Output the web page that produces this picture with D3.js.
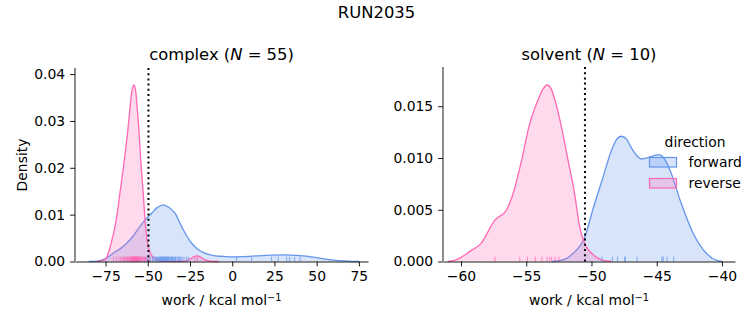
<!DOCTYPE html>
<html>
<head>
<meta charset="utf-8">
<script src="https://cdn.jsdelivr.net/npm/d3@7"></script>
<style>
body { margin: 0; background: white; }
svg { font-family: "DejaVu Sans", sans-serif; }
</style>
</head>
<body>
<script>
"use strict";

// ---- data ----

var figureTitle = "RUN2035";
var directions = ["forward", "reverse"];
var directionColors = ["#6495ED", "#FF69B4"];

// complex leg: density curves (work, density)
var complexForwardX = [-85, -80, -75, -70.4, -66, -62.5, -58.5, -54.6, -51, -47.7, -44.5, -42.5, -40.9, -39.2, -37, -33.9, -30, -27, -24, -20, -16.2, -10, -5.3, 0, 10, 20, 30, 38, 45, 52, 60, 68, 75];
var complexForwardD = [0, 0.0001, 0.0006, 0.0018, 0.0028, 0.0039, 0.0055, 0.0075, 0.0091, 0.0103, 0.0115, 0.0119, 0.0121, 0.0119, 0.0114, 0.0103, 0.0075, 0.0055, 0.0039, 0.0025, 0.0018, 0.0012, 0.0011, 0.0010, 0.0011, 0.0013, 0.0014, 0.0013, 0.0011, 0.0007, 0.0003, 0.0001, 0];
var complexReverseX = [-80, -78, -75.4, -73.4, -71.5, -69.4, -68, -66.5, -65.2, -63.9, -62.7, -61.6, -60.6, -59.6, -58.8, -58.2, -57.6, -57.0, -56.2, -55.4, -54.2, -52.7, -51.3, -49.7, -47.5, -44, -40, -34, -28, -25, -23, -21, -19, -16.5, -13, -8];
var complexReverseD = [0, 0.0001, 0.0004, 0.0018, 0.0042, 0.0075, 0.0105, 0.0146, 0.0180, 0.0217, 0.0252, 0.0288, 0.0325, 0.0359, 0.0373, 0.0377, 0.0372, 0.0359, 0.0325, 0.0288, 0.0217, 0.0146, 0.0075, 0.0032, 0.0012, 0.0004, 0.0001, 0, 0.0001, 0.0005, 0.0010, 0.0012, 0.0010, 0.0004, 0.0001, 0];

// complex leg: individual work values (rug)
var complexForwardWork = [-55.5, -52.0, -50.2, -48.6, -47.3, -46.5, -45.8, -45.1, -44.6, -44.0, -43.5, -43.1, -42.7, -42.3, -41.9, -41.5, -41.1, -40.7, -40.3, -39.9, -39.5, -39.1, -38.7, -38.3, -37.9, -37.4, -36.9, -36.4, -35.9, -35.3, -34.7, -34.0, -33.3, -32.5, -31.7, -30.8, -29.8, -28.6, -27.2, -44.8, -42.0, -40.5, -38.0, -36.0, -33.8, -31.0, -26.0, 2.6, 11.5, 23.3, 27.2, 32.2, 34.0, 37.0, 40.1];
var complexReverseWork = [-70.2, -68.5, -67.1, -66.0, -65.2, -64.4, -63.8, -63.1, -62.5, -62.0, -61.6, -61.1, -60.7, -60.3, -60.0, -59.9, -59.7, -59.4, -59.1, -58.9, -58.6, -58.4, -58.2, -58.1, -58.0, -57.8, -57.6, -57.5, -57.4, -57.2, -57.0, -56.9, -56.8, -56.6, -56.4, -56.2, -56.1, -55.9, -55.8, -55.6, -55.3, -55.0, -54.7, -54.5, -54.3, -53.9, -53.5, -53.0, -52.5, -52.0, -51.4, -50.8, -49.5, -22.0, -20.5];

// solvent leg: density curves
var solventForwardX = [-53, -52.4, -51.9, -51.4, -50.5, -49.9, -49.1, -48.45, -48.0, -47.7, -47.3, -47.0, -46.5, -46.15, -45.5, -45.0, -44.75, -44.4, -43.97, -43.2, -42.2, -41.2, -40.4, -40.0];
var solventForwardD = [0, 0.0001, 0.0003, 0.0008, 0.0024, 0.0050, 0.0082, 0.0108, 0.0119, 0.0121, 0.0118, 0.0111, 0.0102, 0.0099, 0.0101, 0.0103, 0.0103, 0.0099, 0.0088, 0.0059, 0.0027, 0.0008, 0.0001, 0];
var solventReverseX = [-61, -60.5, -60, -59.3, -58.5, -57.4, -56.5, -56.0, -55.35, -54.8, -54.1, -53.7, -53.4, -53.1, -52.8, -52.3, -51.8, -51.3, -50.9, -50.5, -50.0, -49.6, -49.1, -48.5];
var solventReverseD = [0, 0.0001, 0.0004, 0.0010, 0.0017, 0.0040, 0.0050, 0.0066, 0.0098, 0.0130, 0.0156, 0.0167, 0.01705, 0.0167, 0.0156, 0.0130, 0.0098, 0.0066, 0.0033, 0.0017, 0.0008, 0.0004, 0.0001, 0];

// solvent leg: individual work values (rug)
var solventForwardWork = [-49.2, -48.4, -48.0, -47.45, -47.4, -46.5, -44.6, -44.5, -44.2, -43.7];
var solventReverseWork = [-57.4, -55.5, -54.9, -54.3, -53.8, -53.4, -53.2, -53.05, -52.8, -52.5];

// vertical reference lines (free energy estimate)
var complexRefWork = -49.6;
var solventRefWork = -50.5;

// tick values
var complexXTicks = [-75, -50, -25, 0, 25, 50, 75];
var complexYTicks = [0, 0.01, 0.02, 0.03, 0.04];
var solventXTicks = [-60, -55, -50, -45, -40];
var solventYTicks = [0, 0.005, 0.010, 0.015];

// ---- drawing ----

var WIDTH = 753, HEIGHT = 325;
var FONT = 13.9, TITLE_FONT = 16.4;
var TICK = 4.9;

var svg = d3.select("body").append("svg")
            .attr("width", WIDTH)
            .attr("height", HEIGHT);

svg.append("text")
    .attr("x", 376.5)
    .attr("y", 18)
    .attr("text-anchor", "middle")
    .style("font-size", TITLE_FONT + "px")
    .text(figureTitle);

var drawPanel = function(p)
{
    var x = d3.scaleLinear().domain(p.xDomain).range([p.left, p.right]);
    var y = d3.scaleLinear().domain(p.yDomain).range([p.bottom, p.top]);

    var area = d3.area()
                 .x(function(d) { return x(d[0]); })
                 .y0(y(0))
                 .y1(function(d) { return y(d[1]); })
                 .curve(d3.curveMonotoneX);
    var line = d3.line()
                 .x(function(d) { return x(d[0]); })
                 .y(function(d) { return y(d[1]); })
                 .curve(d3.curveMonotoneX);

    var g = svg.append("g");

    // filled kde curves
    for (var i = 0; i < p.curves.length; i++)
    {
        var pts = d3.zip(p.curves[i].x, p.curves[i].d);
        g.append("path")
            .datum(pts)
            .attr("d", area)
            .attr("fill", directionColors[i])
            .attr("fill-opacity", 0.25)
            .attr("stroke", "none");
        g.append("path")
            .datum(pts)
            .attr("d", line)
            .attr("fill", "none")
            .attr("stroke", directionColors[i])
            .attr("stroke-width", 1.3);
    }

    // rug marks
    for (var i = 0; i < p.rugs.length; i++)
    {
        g.append("g")
            .selectAll("line")
            .data(p.rugs[i])
            .enter()
            .append("line")
            .attr("x1", function(d) { return x(d); })
            .attr("x2", function(d) { return x(d); })
            .attr("y1", y(0))
            .attr("y2", y(0) - 4.8)
            .attr("stroke", directionColors[i])
            .attr("stroke-opacity", 0.75)
            .attr("stroke-width", 1);
    }

    // dotted reference line
    g.append("line")
        .attr("x1", x(p.ref)).attr("x2", x(p.ref))
        .attr("y1", p.top).attr("y2", p.bottom)
        .attr("stroke", "black")
        .attr("stroke-width", 2)
        .attr("stroke-dasharray", "2,3.2");

    // axes (despined: only left and bottom)
    var xAxis = g.append("g")
        .attr("transform", "translate(0," + p.bottom + ")")
        .call(d3.axisBottom(x).tickValues(p.xTicks).tickFormat(d3.format("d"))
                .tickSize(TICK).tickSizeOuter(0).tickPadding(4.9));
    var yAxis = g.append("g")
        .attr("transform", "translate(" + p.left + ",0)")
        .call(d3.axisLeft(y).tickValues(p.yTicks).tickFormat(d3.format(p.yFormat))
                .tickSize(TICK).tickSizeOuter(0).tickPadding(4.9));
    yAxis.select(".domain").attr("d", "M0," + p.bottom + "V" + p.top);
    [xAxis, yAxis].forEach(function(a) {
        a.attr("font-family", null).attr("font-size", null);
        a.selectAll("text").style("font-size", FONT + "px").attr("fill", "black");
        a.selectAll("line, path").attr("stroke", "black").attr("stroke-width", 0.9);
    });

    // panel title with italic N
    var title = g.append("text")
        .attr("x", (p.left + p.right) / 2)
        .attr("y", 60)
        .attr("text-anchor", "middle")
        .style("font-size", TITLE_FONT + "px");
    title.append("tspan").text(p.name + " (");
    title.append("tspan").style("font-style", "italic").text("N");
    title.append("tspan").text(" = " + p.n + ")");

    // x label
    var xl = g.append("text")
        .attr("x", (p.left + p.right) / 2)
        .attr("y", 305)
        .attr("text-anchor", "middle")
        .style("font-size", FONT + "px");
    xl.append("tspan").text("work / kcal mol");
    xl.append("tspan").attr("dy", "-0.45em").style("font-size", "9.8px").text("\u22121");

    return { x: x, y: y };
};

drawPanel({
    name: "complex", n: 55,
    left: 75, right: 368, top: 68, bottom: 261.5,
    xDomain: [-93.1, 80.4], yDomain: [0, 0.0413],
    xTicks: complexXTicks, yTicks: complexYTicks, yFormat: ".2f",
    curves: [ { x: complexForwardX, d: complexForwardD },
              { x: complexReverseX, d: complexReverseD } ],
    rugs: [complexForwardWork, complexReverseWork],
    ref: complexRefWork
});

drawPanel({
    name: "solvent", n: 10,
    left: 443, right: 735, top: 67, bottom: 261.5,
    xDomain: [-61.38, -39.0], yDomain: [0, 0.01879],
    xTicks: solventXTicks, yTicks: solventYTicks, yFormat: ".3f",
    curves: [ { x: solventForwardX, d: solventForwardD },
              { x: solventReverseX, d: solventReverseD } ],
    rugs: [solventForwardWork, solventReverseWork],
    ref: solventRefWork
});

// y label on the left panel
svg.append("text")
    .attr("transform", "translate(26.5,165) rotate(-90)")
    .attr("text-anchor", "middle")
    .style("font-size", FONT + "px")
    .text("Density");

// legend (no frame), sits over the solvent panel
var legend = svg.append("g");
legend.append("text")
    .attr("x", 695).attr("y", 146.5)
    .attr("text-anchor", "middle")
    .style("font-size", FONT + "px")
    .text("direction");
for (var i = 0; i < directions.length; i++)
{
    var ly = 157.5 + i * 21;
    legend.append("rect")
        .attr("x", 649.5).attr("y", ly)
        .attr("width", 27).attr("height", 9.5)
        .attr("fill", directionColors[i])
        .attr("fill-opacity", 0.25)
        .attr("stroke", directionColors[i])
        .attr("stroke-width", 1.2);
    legend.append("text")
        .attr("x", 688.5).attr("y", ly + 9)
        .style("font-size", FONT + "px")
        .text(directions[i]);
}
</script>
</body>
</html>
